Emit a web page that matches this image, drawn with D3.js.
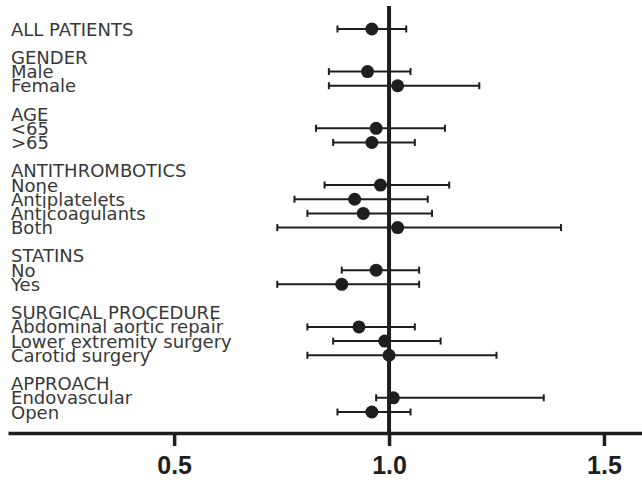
<!DOCTYPE html>
<html>
<head>
<meta charset="utf-8">
<script src="https://cdn.jsdelivr.net/npm/d3@7"></script>
<style>
  html, body { margin: 0; padding: 0; background: #fff; }
  svg { display: block; }
</style>
</head>
<body>
<svg id="chart" width="642" height="480"></svg>
<script>
// Row labels, top to bottom; empty strings are spacer rows between groups
const labels = [
  "ALL PATIENTS", "",
  "GENDER", "Male", "Female", "",
  "AGE", "<65", ">65", "",
  "ANTITHROMBOTICS", "None", "Antiplatelets", "Anticoagulants", "Both", "",
  "STATINS", "No", "Yes", "",
  "SURGICAL PROCEDURE", "Abdominal aortic repair", "Lower extremity surgery", "Carotid surgery", "",
  "APPROACH", "Endovascular", "Open"
];

// Estimates with 95% confidence limits (null for headers and spacers)
const estimate = [
  0.96, null,
  null, 0.95, 1.02, null,
  null, 0.97, 0.96, null,
  null, 0.98, 0.92, 0.94, 1.02, null,
  null, 0.97, 0.89, null,
  null, 0.93, 0.99, 1.00, null,
  null, 1.01, 0.96
];
const lower = [
  0.88, null,
  null, 0.86, 0.86, null,
  null, 0.83, 0.87, null,
  null, 0.85, 0.78, 0.81, 0.74, null,
  null, 0.89, 0.74, null,
  null, 0.81, 0.87, 0.81, null,
  null, 0.97, 0.88
];
const upper = [
  1.04, null,
  null, 1.05, 1.21, null,
  null, 1.13, 1.06, null,
  null, 1.14, 1.09, 1.10, 1.40, null,
  null, 1.07, 1.07, null,
  null, 1.06, 1.12, 1.25, null,
  null, 1.36, 1.05
];

const xTicks = [0.5, 1.0, 1.5];
const referenceValue = 1.0;

const svg = d3.select("#chart");
const ink = "#1e1e1e";

const x = d3.scaleLinear().domain([0.1135, 1.5885]).range([8, 642]);
const y = d3.scalePoint().domain(d3.range(labels.length)).range([29, 412]);

const rows = labels.map((label, i) => ({
  label, i, est: estimate[i], lo: lower[i], hi: upper[i]
}));

// Row labels
svg.append("g")
  .selectAll("text")
  .data(rows.filter(d => d.label))
  .join("text")
  .attr("transform", d => `translate(11,${y(d.i) + 6.5}) scale(1.03,1.05)`)
  .style("font-family", "'DejaVu Sans'")
  .style("font-size", "17.5px")
  .style("fill", "#383838")
  .text(d => d.label);

// Reference line at 1.0
svg.append("line")
  .attr("x1", x(referenceValue)).attr("x2", x(referenceValue))
  .attr("y1", 6).attr("y2", 433)
  .attr("stroke", ink).attr("stroke-width", 4);

const marks = rows.filter(d => d.est != null);

const g = svg.append("g");
// Confidence intervals
g.selectAll("line.ci")
  .data(marks)
  .join("line")
  .attr("class", "ci")
  .attr("x1", d => x(d.lo)).attr("x2", d => x(d.hi))
  .attr("y1", d => y(d.i)).attr("y2", d => y(d.i))
  .attr("stroke", ink).attr("stroke-width", 2);

// End caps
["lo", "hi"].forEach(k => {
  g.selectAll("line.cap-" + k)
    .data(marks)
    .join("line")
    .attr("class", "cap-" + k)
    .attr("x1", d => x(d[k])).attr("x2", d => x(d[k]))
    .attr("y1", d => y(d.i) - 3.5).attr("y2", d => y(d.i) + 3.5)
    .attr("stroke", ink).attr("stroke-width", 2);
});

// Point estimates
g.selectAll("circle")
  .data(marks)
  .join("circle")
  .attr("cx", d => x(d.est))
  .attr("cy", d => y(d.i))
  .attr("r", 6.5)
  .attr("fill", ink);

// X axis
const axis = svg.append("g")
  .attr("transform", "translate(0,433)")
  .call(d3.axisBottom(x).tickValues(xTicks).tickFormat(d3.format(".1f")).tickSize(13).tickSizeOuter(0).tickPadding(10));
axis.select(".domain").attr("stroke", ink).attr("stroke-width", 3.5);
axis.selectAll(".tick line").attr("stroke", ink).attr("stroke-width", 3.5);
axis.selectAll(".tick text")
  .attr("fill", ink)
  .attr("font-family", null).attr("font-size", null)
  .style("font-family", "'Liberation Sans'")
  .style("font-weight", "bold")
  .style("font-size", "25px");
</script>
</body>
</html>
